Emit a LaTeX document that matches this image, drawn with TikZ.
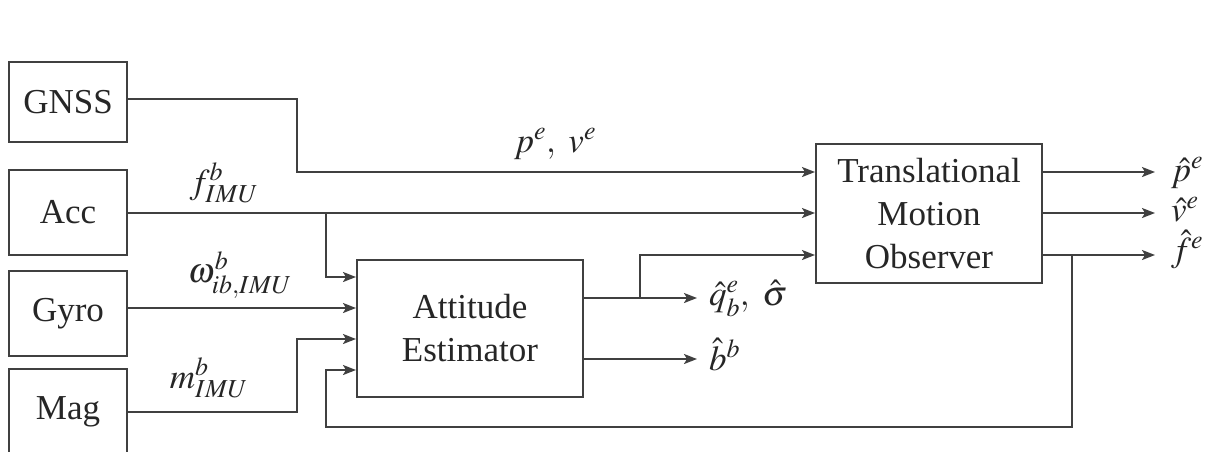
\documentclass[tikz,border=0pt]{standalone}
\usepackage{mathptmx}
\usepackage{fontspec}
\setmainfont{Liberation Serif}
\usetikzlibrary{arrows.meta,calc}
\begin{document}
\begin{tikzpicture}[x=1pt,y=-1pt,
  line width=2pt,
  every node/.style={font=\fontsize{35}{43}\selectfont, text=black!85},
  blk/.style={draw=black!75, line width=2pt, align=center, inner sep=0pt},
  wire/.style={draw=black!75, line width=2pt},
  arr/.style={wire, -{Stealth[length=13pt,width=10pt,inset=3pt]}},
  lbl/.style={inner sep=0pt}
]
\useasboundingbox (0,0) rectangle (1209,451);
% blocks
\node[blk, minimum width=118pt, minimum height=80pt] (gnss) at (68,102) {GNSS};
\node[blk, minimum width=118pt, minimum height=85pt] (acc) at (68,212.5) {Acc};
\node[blk, minimum width=118pt, minimum height=85pt] (gyro) at (68,313.5) {Gyro};
\node[blk, minimum width=118pt, minimum height=85pt] (mag) at (68,411.5) {Mag};
\node[blk, minimum width=226pt, minimum height=137pt] (att) at (470,328.5) {Attitude\\Estimator};
\node[blk, minimum width=226pt, minimum height=139pt] (trans) at (929,213.5) {Translational\\Motion\\Observer};
% coordinates
\coordinate (tin1) at (trans.west |- 0,172);
\coordinate (tin2) at (trans.west |- 0,213);
\coordinate (tin3) at (trans.west |- 0,255);
\coordinate (ain1) at (att.west |- 0,277);
\coordinate (ain2) at (att.west |- 0,308);
\coordinate (ain3) at (att.west |- 0,339);
\coordinate (ain4) at (att.west |- 0,370);
\coordinate (gbend) at (297,172);
\coordinate (mbend) at (297,412);
\coordinate (abr) at (326,213);
\coordinate (fbr) at (1072,255);
\coordinate (fbl) at (326,427);
\coordinate (qbr) at (640,298);
\coordinate (qout) at (697,298);
\coordinate (bout) at (697,359);
\coordinate (pout) at (1155,172);
\coordinate (vout) at (1155,213);
\coordinate (fout) at (1155,255);
% connectors
\draw[arr] (gnss.east |- 0,99) -| (gbend) -- (tin1);
\draw[arr] (acc.east |- abr) -- (tin2);
\draw[arr] (abr) |- (ain1);
\draw[arr] (gyro.east |- ain2) -- (ain2);
\draw[arr] (mag.east |- mbend) -- (mbend) |- (ain3);
\draw[arr] (fbr) |- (fbl) |- (ain4);
\draw[arr] (att.east |- qout) -- (qout);
\draw[arr] (qbr) |- (tin3);
\draw[arr] (att.east |- bout) -- (bout);
\draw[arr] (trans.east |- pout) -- (pout);
\draw[arr] (trans.east |- vout) -- (vout);
\draw[arr] (trans.east |- fout) -- (fout);
% labels
\node[lbl, anchor=base] (lpv) at (555,152) {$p^e,\ v^e$};
\node[lbl, anchor=base] (lf) at (224,193) {$f^b_{IMU}$};
\node[lbl, anchor=base] (lw) at (240,282) {$\omega^b_{ib,IMU}$};
\node[lbl, anchor=base] (lm) at (209,388) {$m^b_{IMU}$};
\node[lbl, anchor=base west] (lq) at (708,305) {$\hat{q}^e_b,\ \hat{\sigma}$};
\node[lbl, anchor=base west] (lb) at (708,370) {$\hat{b}^b$};
\node[lbl, anchor=base west] (lp) at (1170,181) {$\hat{p}^e$};
\node[lbl, anchor=base west] (lv) at (1170,221) {$\hat{v}^e$};
\node[lbl, anchor=base west] (lfe) at (1170,261) {$\hat{f}^e$};
\end{tikzpicture}
\end{document}
